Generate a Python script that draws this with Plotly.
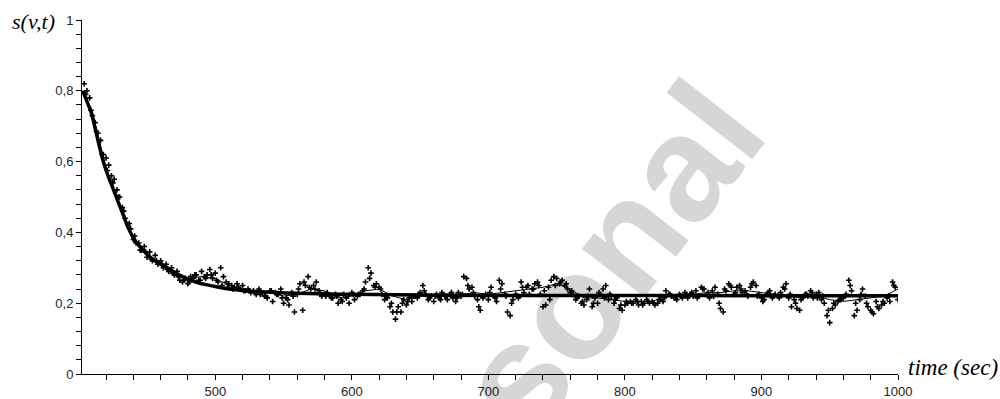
import plotly.graph_objects as go

# ---- data ----
fit_t = [403, 406, 409, 412, 415, 418, 421, 424, 427, 430, 433, 436, 439, 442, 446, 450, 455, 460, 465,
         470, 476, 482, 488, 495, 500, 510, 525, 540, 560, 600, 650, 700, 800, 900, 1000]
fit_s = [0.800, 0.770, 0.740, 0.695, 0.645, 0.600, 0.565, 0.535, 0.505, 0.475, 0.445, 0.415, 0.392,
         0.373, 0.355, 0.338, 0.322, 0.310, 0.300, 0.288, 0.275, 0.265, 0.257, 0.251, 0.247, 0.240,
         0.234, 0.231, 0.228, 0.225, 0.223, 0.222, 0.222, 0.221, 0.221]

smooth_t = [403, 410, 420, 430, 440, 450, 460, 470, 480, 490, 500, 510, 520, 530, 540, 550, 560, 570,
            580, 590, 600, 610, 620, 630, 640, 650, 660, 670, 680, 690, 700, 710, 720, 730, 740, 750,
            760, 770, 780, 790, 800, 810, 820, 830, 840, 850, 860, 870, 880, 890, 900, 910, 920, 930,
            940, 950, 960, 970, 980, 990, 1000]
smooth_s = [0.80, 0.74, 0.58, 0.47, 0.375, 0.34, 0.31, 0.28, 0.27, 0.275, 0.27, 0.25, 0.24, 0.235,
            0.23, 0.22, 0.225, 0.24, 0.235, 0.215, 0.22, 0.235, 0.24, 0.22, 0.21, 0.22, 0.22, 0.22,
            0.225, 0.23, 0.225, 0.23, 0.235, 0.24, 0.245, 0.255, 0.24, 0.215, 0.215, 0.21, 0.205,
            0.205, 0.205, 0.22, 0.22, 0.225, 0.23, 0.23, 0.235, 0.235, 0.23, 0.225, 0.22, 0.215,
            0.22, 0.21, 0.205, 0.21, 0.215, 0.22, 0.24]

obs_t = list(range(404, 1001, 2))
obs_s = [
    # 404-442
    0.82, 0.80, 0.78, 0.73, 0.71, 0.68, 0.66, 0.62, 0.61, 0.59, 0.56, 0.55, 0.52, 0.50, 0.47, 0.44, 0.42, 0.41, 0.38, 0.37,
    # 444-482
    0.37, 0.35, 0.36, 0.33, 0.345, 0.32, 0.335, 0.31, 0.32, 0.30, 0.31, 0.29, 0.30, 0.28, 0.29, 0.265, 0.26, 0.27, 0.255, 0.275,
    # 484-522
    0.27, 0.28, 0.265, 0.29, 0.275, 0.28, 0.295, 0.27, 0.285, 0.26, 0.30, 0.275, 0.26, 0.255, 0.25, 0.245, 0.255, 0.24, 0.25, 0.235,
    # 524-562
    0.24, 0.23, 0.235, 0.225, 0.24, 0.23, 0.22, 0.215, 0.235, 0.205, 0.23, 0.225, 0.24, 0.20, 0.215, 0.195, 0.23, 0.175, 0.225, 0.255,
    # 564-602
    0.18, 0.25, 0.275, 0.24, 0.25, 0.26, 0.235, 0.22, 0.225, 0.23, 0.22, 0.215, 0.225, 0.20, 0.21, 0.225, 0.215, 0.20, 0.23, 0.21,
    # 604-642
    0.22, 0.225, 0.235, 0.26, 0.30, 0.285, 0.25, 0.255, 0.245, 0.225, 0.21, 0.215, 0.19, 0.175, 0.155, 0.19, 0.175, 0.21, 0.195, 0.215,
    # 644-682
    0.205, 0.22, 0.215, 0.23, 0.25, 0.225, 0.21, 0.22, 0.205, 0.225, 0.215, 0.23, 0.22, 0.21, 0.225, 0.215, 0.205, 0.23, 0.22, 0.275,
    # 684-722
    0.27, 0.24, 0.245, 0.22, 0.21, 0.18, 0.215, 0.225, 0.21, 0.245, 0.22, 0.205, 0.265, 0.255, 0.225, 0.175, 0.165, 0.21, 0.225, 0.215,
    # 724-762
    0.26, 0.23, 0.245, 0.225, 0.24, 0.255, 0.26, 0.225, 0.19, 0.195, 0.245, 0.265, 0.275, 0.27, 0.255, 0.265, 0.25, 0.24, 0.23, 0.225,
    # 764-802
    0.21, 0.22, 0.20, 0.195, 0.21, 0.24, 0.19, 0.215, 0.20, 0.225, 0.24, 0.25, 0.21, 0.22, 0.20, 0.215, 0.185, 0.18, 0.195, 0.20,
    # 804-842
    0.205, 0.20, 0.21, 0.195, 0.205, 0.20, 0.21, 0.20, 0.205, 0.195, 0.20, 0.21, 0.205, 0.235, 0.225, 0.22, 0.215, 0.21, 0.225, 0.215,
    # 844-882
    0.23, 0.215, 0.225, 0.22, 0.235, 0.22, 0.245, 0.24, 0.225, 0.215, 0.235, 0.245, 0.225, 0.185, 0.175, 0.235, 0.255, 0.245, 0.225, 0.245,
    # 884-922
    0.25, 0.23, 0.235, 0.22, 0.245, 0.26, 0.25, 0.225, 0.215, 0.21, 0.225, 0.235, 0.215, 0.225, 0.22, 0.23, 0.245, 0.255, 0.215, 0.19,
    # 924-962
    0.21, 0.185, 0.18, 0.215, 0.225, 0.22, 0.235, 0.215, 0.225, 0.23, 0.21, 0.20, 0.165, 0.145, 0.185, 0.195, 0.205, 0.21, 0.215, 0.225,
    # 964-1000
    0.265, 0.235, 0.165, 0.18, 0.21, 0.24, 0.22, 0.19, 0.18, 0.17, 0.205, 0.185, 0.195, 0.20, 0.215, 0.205, 0.26, 0.245, 0.21,
]

obs2_t = list(range(405, 1000, 4))
obs2_s = [
    0.79, 0.745, 0.685, 0.62, 0.575, 0.54, 0.50, 0.46, 0.425, 0.39,        # 405-441
    0.35, 0.345, 0.325, 0.32, 0.31, 0.295, 0.285, 0.275, 0.265, 0.26,      # 445-481
    0.28, 0.265, 0.27, 0.28, 0.265, 0.25, 0.245, 0.24, 0.245, 0.235,       # 485-521
    0.235, 0.23, 0.225, 0.22, 0.235, 0.225, 0.215, 0.21, 0.22, 0.24,       # 525-561
    0.26, 0.245, 0.24, 0.225, 0.22, 0.215, 0.22, 0.205, 0.22, 0.225,       # 565-601
    0.225, 0.24, 0.27, 0.245, 0.24, 0.22, 0.20, 0.175, 0.20, 0.205,        # 605-641
    0.22, 0.225, 0.235, 0.215, 0.22, 0.21, 0.22, 0.23, 0.215, 0.225,       # 645-681
    0.25, 0.23, 0.19, 0.22, 0.23, 0.215, 0.24, 0.22, 0.20, 0.22,           # 685-721
    0.245, 0.25, 0.24, 0.25, 0.235, 0.21, 0.25, 0.26, 0.255, 0.235,        # 725-761
    0.215, 0.205, 0.22, 0.20, 0.23, 0.215, 0.225, 0.21, 0.195, 0.205,      # 765-801
    0.20, 0.205, 0.195, 0.205, 0.20, 0.21, 0.215, 0.225, 0.215, 0.22,      # 805-841
    0.225, 0.23, 0.215, 0.24, 0.23, 0.22, 0.20, 0.24, 0.25, 0.23,          # 845-881
    0.24, 0.225, 0.255, 0.22, 0.205, 0.23, 0.22, 0.215, 0.24, 0.225,       # 885-921
    0.20, 0.21, 0.225, 0.23, 0.215, 0.22, 0.18, 0.20, 0.21, 0.22,          # 925-961
    0.25, 0.20, 0.225, 0.20, 0.175, 0.19, 0.205, 0.22, 0.25,               # 965-997
]

x_tickvals = [500, 600, 700, 800, 900, 1000]
x_ticktext = ["500", "600", "700", "800", "900", "1000"]
y_tickvals = [0, 0.2, 0.4, 0.6, 0.8, 1]
y_ticktext = ["0", "0,2", "0,4", "0,6", "0,8", "1"]

marker_style = dict(symbol="cross-thin", size=4, color="black", line=dict(width=1.6, color="black"))

fig = go.Figure()
fig.add_trace(go.Scatter(x=obs_t, y=obs_s, mode="markers", marker=marker_style, showlegend=False))
fig.add_trace(go.Scatter(x=obs2_t, y=obs2_s, mode="markers", marker=marker_style, showlegend=False))
fig.add_trace(go.Scatter(x=smooth_t, y=smooth_s, mode="lines",
                         line=dict(color="black", width=1), showlegend=False))
fig.add_trace(go.Scatter(x=fit_t, y=fit_s, mode="lines", line_shape="spline",
                         line=dict(color="black", width=3.5), showlegend=False))

tickfont = dict(family="Liberation Sans, Arial, sans-serif", size=13, color="#222")
serif = "Liberation Serif, Times New Roman, serif"
fig.update_layout(
    width=1000, height=399,
    margin=dict(l=82, r=102, t=20, b=25, autoexpand=False),
    paper_bgcolor="white", plot_bgcolor="white",
    xaxis=dict(range=[402.4, 1000], automargin=False, showgrid=False, zeroline=False, showline=True,
               linecolor="black", linewidth=1, ticks="outside", ticklen=5, tickcolor="black",
               tickvals=x_tickvals, ticktext=x_ticktext, tickfont=tickfont,
               minor=dict(tick0=400, dtick=20, ticks="outside", ticklen=5, tickcolor="black")),
    yaxis=dict(range=[0, 1], automargin=False, showgrid=False, zeroline=False, showline=True,
               linecolor="black", linewidth=1, ticks="outside", ticklen=5, tickcolor="black",
               tickvals=y_tickvals, ticktext=y_ticktext, tickfont=tickfont,
               minor=dict(tick0=0, dtick=0.04, ticks="outside", ticklen=5, tickcolor="black")),
    annotations=[
        dict(text="sonal", xref="paper", yref="paper", x=0.647, y=0.33, xanchor="center",
             yanchor="middle", showarrow=False, textangle=-52,
             font=dict(family="Liberation Sans, Arial, sans-serif", size=150,
                       color="rgba(0,0,0,0.16)", weight="bold")),
        dict(text="s(v,t)", xref="paper", yref="paper", x=-0.088, y=0.995, xanchor="left",
             yanchor="middle", showarrow=False,
             font=dict(family=serif, size=22, color="black", style="italic")),
        dict(text="time (sec)", xref="paper", yref="paper", x=1.01, y=0.017, xanchor="left",
             yanchor="middle", showarrow=False,
             font=dict(family=serif, size=23, color="black", style="italic")),
    ],
)
fig.write_html("out.html", config=dict(displayModeBar=False),
               post_script="document.body.style.margin='0px';document.body.style.overflow='hidden';")
